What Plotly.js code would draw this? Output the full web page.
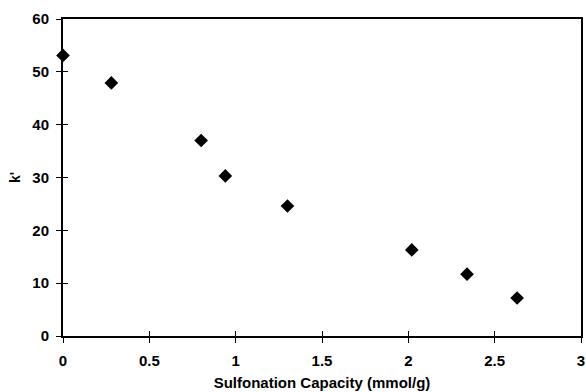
<!DOCTYPE html>
<html>
<head>
<meta charset="utf-8">
<script src="https://cdn.plot.ly/plotly-3.0.1.min.js"></script>
<style>html,body{margin:0;padding:0;background:#fff;}#chart{width:586px;height:392px;}</style>
</head>
<body>
<div id="chart"></div>
<script>
const capacity = [0, 0.28, 0.80, 0.94, 1.30, 2.02, 2.34, 2.63];
const kPrime = [53.1, 47.9, 37.0, 30.3, 24.6, 16.3, 11.7, 7.2];
const xTicks = [0, 0.5, 1, 1.5, 2, 2.5, 3];
const xTickText = ['0', '0.5', '1', '1.5', '2', '2.5', '3'];
const yTicks = [0, 10, 20, 30, 40, 50, 60];

const fam = 'Liberation Sans, Arial, sans-serif';
const font = {family: fam, size: 15, color: '#000'};

const traces = [{
  x: capacity, y: kPrime, type: 'scatter', mode: 'markers',
  marker: {symbol: 'diamond', size: 10.5, color: '#000'},
  cliponaxis: false, showlegend: false, hoverinfo: 'x+y'
}, {
  x: [], y: [], xaxis: 'x2', yaxis: 'y2', type: 'scatter', showlegend: false
}];

const layout = {
  width: 586, height: 392,
  margin: {l: 63, r: 5, t: 19, b: 56},
  paper_bgcolor: '#fff', plot_bgcolor: '#fff',
  font: font,
  xaxis: {
    range: [0, 3], tickvals: xTicks, ticktext: xTickText,
    showgrid: false, zeroline: false, automargin: false,
    showline: true, linecolor: '#000', linewidth: 2, mirror: true,
    ticks: 'outside', ticklen: 5, tickwidth: 1, tickcolor: '#000',
    ticklabelstandoff: 5,
    tickfont: {family: fam, size: 15, color: '#000', weight: 'bold'},
    title: {text: 'Sulfonation Capacity (mmol/g)', standoff: 9,
            font: {family: fam, size: 15, color: '#000', weight: 'bold'}}
  },
  yaxis: {
    range: [0, 60], tickvals: yTicks,
    showgrid: false, zeroline: false, automargin: false,
    showline: true, linecolor: '#000', linewidth: 2, mirror: true,
    ticks: 'outside', ticklen: 5, tickwidth: 1, tickcolor: '#000',
    ticklabelstandoff: 4,
    tickfont: {family: fam, size: 15, color: '#000', weight: 'bold'},
    title: {text: "k'", standoff: 8,
            font: {family: fam, size: 14, color: '#000', weight: 'bold'}}
  },
  xaxis2: {
    overlaying: 'x', matches: 'x', range: [0, 3], tickvals: xTicks,
    showticklabels: false, showgrid: false, zeroline: false, showline: false,
    ticks: 'inside', ticklen: 5, tickwidth: 1, tickcolor: '#000', side: 'bottom'
  },
  yaxis2: {
    overlaying: 'y', matches: 'y', range: [0, 60], tickvals: yTicks,
    showticklabels: false, showgrid: false, zeroline: false, showline: false,
    ticks: 'inside', ticklen: 5, tickwidth: 1, tickcolor: '#000', side: 'left'
  }
};

Plotly.newPlot('chart', traces, layout, {displayModeBar: false, staticPlot: true});
</script>
</body>
</html>
